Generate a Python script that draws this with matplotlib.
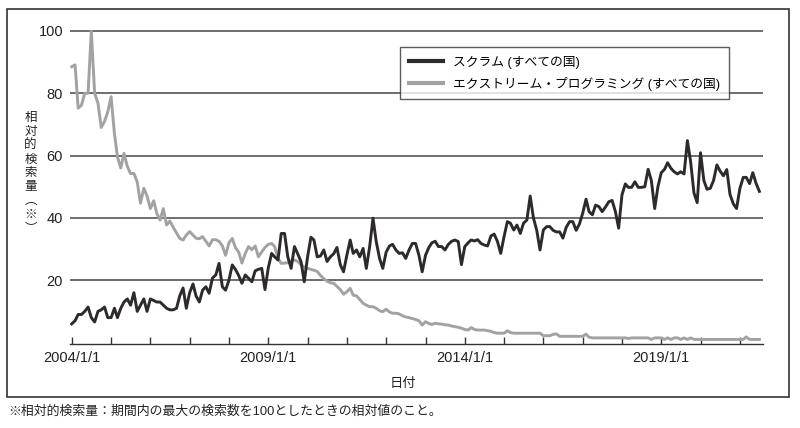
import matplotlib
matplotlib.use("Agg")
import matplotlib.pyplot as plt
import matplotlib.dates as mdates
from matplotlib.patches import Rectangle
import pandas as pd

plt.rcParams['font.family'] = ['Liberation Sans', 'Noto Sans CJK JP']

# monthly relative search volume, 2004/1 .. 2021/7
scrum = [
    6, 7, 9, 9, 10, 11.4, 8, 6.6, 10, 10.5, 11.4, 8,                 # 2004
    8, 11, 8, 11, 13, 14, 12, 16, 10, 12, 14, 10,                     # 2005
    14, 13.5, 13, 13, 12, 11, 10.5, 10.5, 11, 15, 17.5, 11,           # 2006
    16, 18.8, 15, 13, 16.8, 17.9, 15.8, 20.7, 21.7, 25.4, 17.9, 16.8, # 2007
    20, 24.9, 23.5, 21.5, 19, 21.7, 20.6, 19.5, 23, 23.5, 23.8, 17,   # 2008
    24, 28.6, 27.5, 26.5, 35, 35, 27.5, 23.8, 30.8, 28.5, 26, 19.5,   # 2009
    27.5, 33.8, 32.9, 27.5, 27.8, 29.7, 26, 27.5, 28.5, 30.5, 25, 22.7,  # 2010
    28, 32.9, 28.6, 29.7, 27.5, 30.2, 23.8, 30.8, 39.9, 32.4, 27, 23.8,  # 2011
    29, 31, 31.5, 29.7, 28.6, 28.8, 27, 29.7, 31.8, 31.8, 28, 22.7,      # 2012
    28, 30.5, 32, 32.5, 30.8, 30.8, 29.7, 31.5, 32.5, 32.9, 32.4, 25,    # 2013
    30.8, 32, 32.9, 32.6, 33, 31.8, 31.3, 31, 34.2, 34.8, 32.4, 28.6,    # 2014
    34, 38.8, 38.3, 36.1, 37.7, 35, 38.3, 39.3, 47, 40, 36, 29.7,        # 2015
    36.1, 37.2, 37.2, 36, 35.5, 35.5, 33.5, 37, 38.8, 38.8, 36, 38,      # 2016
    41.5, 46, 42, 41, 44.1, 43.6, 42, 43.5, 45.2, 45.6, 42, 36.7,        # 2017
    47.4, 50.9, 49.8, 49.8, 51.6, 49.8, 49.8, 50, 55.6, 52, 43, 50,      # 2018
    54.5, 55.6, 57.7, 55.9, 54.8, 54.1, 54.8, 54.1, 64.8, 58, 48, 44.9,  # 2019
    60.9, 52, 49.2, 49.5, 52, 57, 55, 53.5, 55.5, 47.5, 44.5, 43,        # 2020
    49.5, 53, 53, 51, 54.5, 51, 48.5,                                    # 2021
]

xp = [
    88.5, 89.1, 75.2, 76.2, 80, 80, 100, 80, 76.8, 69, 71, 74,           # 2004
    78.9, 67, 59.6, 56, 60.7, 56.5, 54.2, 54.3, 51.5, 44.7, 49.5, 47,    # 2005
    43, 45.5, 41.5, 39.3, 43, 37.7, 39, 37, 35.2, 33.4, 32.9, 34.5,      # 2006
    35.6, 34.5, 33.5, 33.3, 34, 32.5, 31, 33, 33, 32.5, 31, 28,          # 2007
    32, 33.4, 30.5, 29, 25.5, 28.6, 30.8, 29.8, 31, 27.5, 29.1, 30.5,    # 2008
    31.5, 31.8, 30.8, 27, 25.4, 25.5, 25.6, 26.2, 26.5, 26, 25, 24.2,    # 2009
    23.8, 23.5, 23.2, 22.8, 21.5, 20.5, 19.7, 19.2, 19, 18, 17, 15.5,    # 2010
    16.3, 17.4, 15.2, 15, 13.8, 12.6, 12, 11.5, 11.5, 11, 10.2, 9.9,     # 2011
    10.7, 9.8, 9.4, 9.4, 9.2, 8.6, 8.2, 8, 7.7, 7.4, 7, 5.6,             # 2012
    6.7, 6.1, 5.8, 6.2, 6, 5.9, 5.7, 5.6, 5.3, 5.1, 4.9, 4.6,            # 2013
    4.2, 4, 4.8, 4.2, 4, 4, 4, 3.8, 3.6, 3.2, 3, 3,                      # 2014
    3, 3.8, 3.2, 3, 3, 3, 3, 3, 3, 3, 3, 3,                              # 2015
    2.2, 2.2, 2.2, 2.6, 2.8, 2, 2, 2, 2, 2, 2, 2,                        # 2016
    2, 2.7, 1.7, 1.5, 1.5, 1.5, 1.5, 1.5, 1.5, 1.5, 1.5, 1.5,            # 2017
    1.5, 1.5, 1.3, 1.5, 1.5, 1.5, 1.5, 1.5, 1.5, 1.0, 1.5, 1.5,          # 2018
    1.5, 1.0, 1.5, 1.0, 1.5, 1.5, 1.0, 1.5, 1.0, 1.5, 1.0, 1.0,          # 2019
    1, 1, 1, 1, 1, 1, 1, 1, 1, 1, 1, 1,                                  # 2020
    1, 1, 1.8, 1, 1, 1, 1,                                               # 2021
]

dates = pd.date_range("2004-01-01", periods=len(scrum), freq="MS")
series_labels = ["スクラム (すべての国)", "エクストリーム・プログラミング (すべての国)"]
label_years = [2004, 2009, 2014, 2019]
y_ticks = [20, 40, 60, 80, 100]

fig = plt.figure(figsize=(8, 4.28), dpi=100)
ax = fig.add_axes([0.0875, 0.196, 0.8659, 0.734])

ax.plot(dates, scrum, color="#2e2a2b", lw=2.1, label=series_labels[0], zorder=3)
ax.plot(dates, xp, color="#a2a2a2", lw=2.1, label=series_labels[1], zorder=2)

ax.set_xlim(pd.Timestamp("2003-12-16"), pd.Timestamp("2021-08-01"))
ax.set_ylim(-0.5, 100.3)

# y axis: gridlines only
ax.set_yticks(y_ticks)
ax.yaxis.grid(True, color="#555555", lw=1.2)
ax.tick_params(axis="y", length=0, pad=5, labelsize=10.5, colors="#222222")
for s in ["left", "top", "right"]:
    ax.spines[s].set_visible(False)
ax.spines["bottom"].set_color("#333333")
ax.spines["bottom"].set_linewidth(1.0)

# x axis: a tick each year, label every 5 years
ax.xaxis.set_major_locator(mdates.YearLocator(1))
ax.xaxis.set_major_formatter(plt.FuncFormatter(
    lambda v, p: f"{mdates.num2date(v).year}/1/1"
    if mdates.num2date(v).year in label_years else ""))
ax.tick_params(axis="x", direction="in", length=5, width=1.0, color="#333333",
               pad=5, labelsize=10.5, labelcolor="#222222")

ax.set_xlabel("日付", fontsize=9.5, x=0.481, labelpad=9, color="#222222")

# vertical y label
ax.text(-0.057, 0.545, "\n".join("相対的検索量︵※︶"), transform=ax.transAxes,
        ha="center", va="center", fontsize=9, linespacing=1.08,
        family=["Noto Sans CJK JP"], color="#222222")

leg = ax.legend(loc="upper left", bbox_to_anchor=(0.476, 0.946), borderaxespad=0,
                fontsize=9.2, frameon=True, fancybox=False, edgecolor="#333333",
                handlelength=2.7, handletextpad=0.8, borderpad=0.7, labelspacing=0.6)
leg.get_frame().set_linewidth(1.0)
for h in leg.get_lines():
    h.set_linewidth(3.0)

# outer frame and footnote
fig.patches.append(Rectangle((0.00875, 0.0724), 0.9775, 0.9065, transform=fig.transFigure,
                             fill=False, edgecolor="#333333", lw=1.2))
fig.text(0.01, 1 - 412 / 428, "※相対的検索量：期間内の最大の検索数を100としたときの相対値のこと。",
         fontsize=9.3, va="center", ha="left", color="#222222")

fig.savefig("out.png", dpi=100)
